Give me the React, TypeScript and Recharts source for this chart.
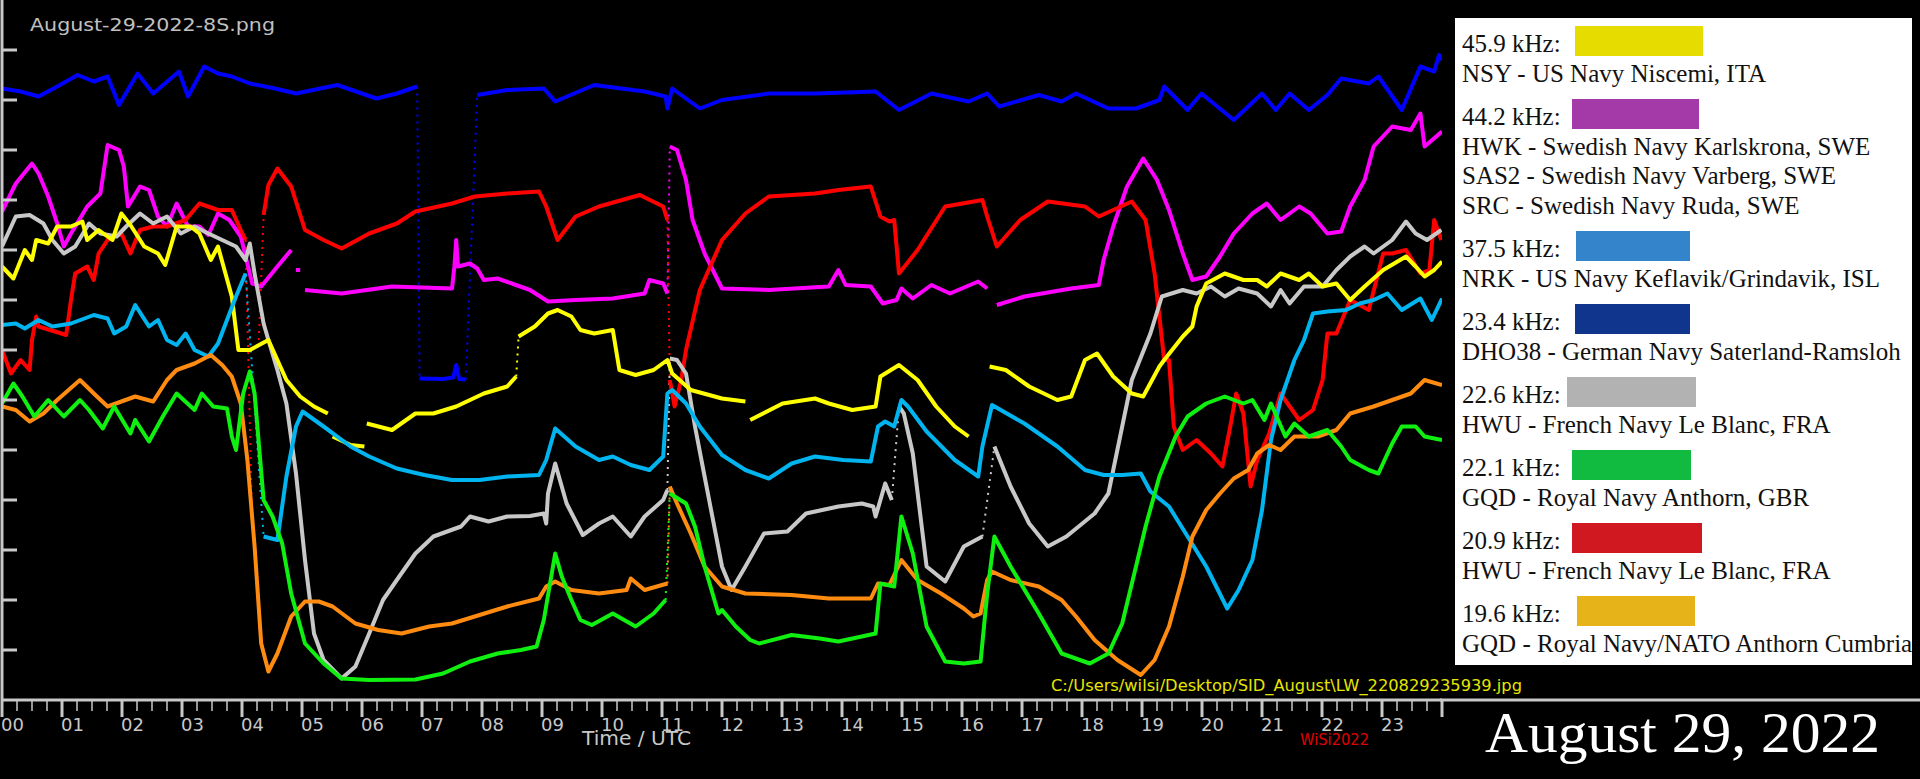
import React from "react";
import { LineChart, Line, XAxis, YAxis } from "recharts";

type Pt = [number, number] | null;

// x = hour of day (UTC), y = signal level in axis units (one unit per y tick)
const hourLabels = ["00", "01", "02", "03", "04", "05", "06", "07", "08", "09", "10", "11",
  "12", "13", "14", "15", "16", "17", "18", "19", "20", "21", "22", "23"];
const yTicks = [1, 2, 3, 4, 5, 6, 7, 8, 9, 10, 11, 12, 13];

const blue: Pt[] = [
  [0, 12.23], [0.31, 12.17], [0.61, 12.07], [0.92, 12.27], [1.26, 12.5], [1.53, 12.37], [1.76, 12.47],
  [1.95, 11.9], [2.26, 12.53], [2.52, 12.13], [2.95, 12.57], [3.1, 12.07], [3.37, 12.67], [3.6, 12.53],
  [3.83, 12.47], [4.13, 12.33], [4.55, 12.23], [4.9, 12.13], [5.59, 12.3], [6.24, 12.03], [6.58, 12.13],
  [6.92, 12.27], null,
  [6.96, 6.43], [7.35, 6.42], [7.52, 6.45], [7.57, 6.7], [7.62, 6.42], [7.73, 6.41], null,
  [7.92, 12.1], [8.42, 12.2], [9.03, 12.23], [9.22, 11.97], [9.87, 12.3], [10.71, 12.17], [11.06, 12.07],
  [11.09, 11.83], [11.17, 12.23], [11.63, 11.83], [12.0, 12.0], [12.78, 12.13], [13.55, 12.13],
  [14.56, 12.17], [14.95, 11.8], [15.49, 12.13], [16.11, 11.97], [16.42, 12.13], [16.62, 11.87],
  [17.28, 12.1], [17.66, 11.97], [17.9, 12.13], [18.44, 11.83], [18.9, 11.83], [19.29, 12.0],
  [19.37, 12.27], [19.76, 11.8], [19.99, 12.13], [20.53, 11.6], [21.0, 12.13], [21.23, 11.8],
  [21.46, 12.13], [21.78, 11.8], [22.09, 12.1], [22.32, 12.43], [22.78, 12.33], [22.94, 12.47],
  [23.33, 11.8], [23.64, 12.67], [23.87, 12.57], [23.95, 12.9], [24.0, 12.8],
];
const blueJumps: Pt[] = [[6.92, 12.27], [6.96, 6.43], null, [7.73, 6.41], [7.92, 12.1]];

const magenta: Pt[] = [
  [0, 9.77], [0.23, 10.33], [0.5, 10.73], [0.61, 10.53], [0.77, 10.07], [0.92, 9.53], [1.03, 9.07],
  [1.15, 9.33], [1.42, 9.87], [1.64, 10.13], [1.76, 11.1], [1.95, 11.0], [2.03, 10.67], [2.1, 9.87],
  [2.3, 10.27], [2.45, 10.2], [2.6, 9.67], [2.75, 9.47], [2.91, 9.93], [3.1, 9.47], [3.29, 9.47],
  [3.44, 9.3], [3.6, 9.73], [3.79, 9.6], [3.98, 9.27], [4.17, 8.33], [4.32, 8.27], [4.59, 8.67],
  [4.82, 9.0], null, [4.9, 8.6], [4.97, 8.6], null,
  [5.05, 8.2], [5.66, 8.13], [6.5, 8.27], [7.5, 8.23], [7.54, 8.67], [7.57, 9.2], [7.6, 8.67],
  [7.8, 8.73], [7.92, 8.63], [8.03, 8.4], [8.26, 8.43], [8.8, 8.2], [9.1, 7.97], [9.56, 8.0],
  [10.18, 8.03], [10.71, 8.13], [10.79, 8.4], [11.02, 8.33], [11.09, 8.13], null,
  [11.13, 11.07], [11.25, 11.0], [11.4, 10.4], [11.51, 9.6], [11.71, 8.93], [12.0, 8.23], [12.78, 8.2],
  [13.78, 8.27], [13.94, 8.6], [14.06, 8.3], [14.48, 8.27], [14.68, 7.93], [14.91, 8.0], [14.99, 8.23],
  [15.18, 8.03], [15.49, 8.3], [15.8, 8.13], [16.27, 8.37], [16.42, 8.23], null,
  [16.58, 7.9], [17.04, 8.07], [17.82, 8.23], [18.28, 8.3], [18.36, 8.8], [18.52, 9.47], [18.75, 10.27],
  [19.02, 10.83], [19.25, 10.4], [19.45, 9.8], [19.68, 8.93], [19.84, 8.4], [20.07, 8.47], [20.3, 8.87],
  [20.53, 9.33], [20.84, 9.73], [21.08, 9.93], [21.31, 9.6], [21.62, 9.87], [21.81, 9.73], [22.09, 9.33],
  [22.32, 9.37], [22.47, 9.87], [22.71, 10.4], [22.86, 11.07], [23.17, 11.47], [23.48, 11.4],
  [23.64, 11.73], [23.71, 11.07], [24.0, 11.37],
];
const magentaJumps: Pt[] = [[11.09, 8.13], [11.13, 11.07]];

const red: Pt[] = [
  [0, 7.0], [0.15, 6.53], [0.31, 6.8], [0.46, 6.6], [0.5, 7.2], [0.57, 7.67], [0.61, 7.47], [0.8, 7.4],
  [1.07, 7.3], [1.15, 8.0], [1.22, 8.53], [1.42, 8.67], [1.53, 8.4], [1.61, 8.93], [1.76, 9.2],
  [1.99, 9.33], [2.14, 8.93], [2.3, 9.4], [2.52, 9.47], [2.75, 9.47], [3.06, 9.6], [3.29, 9.93],
  [3.6, 9.8], [3.83, 9.8], [3.98, 9.4], [4.06, 9.2], null,
  [4.36, 9.7], [4.44, 10.3], [4.59, 10.63], [4.82, 10.27], [5.05, 9.4], [5.36, 9.2], [5.66, 9.03],
  [6.12, 9.33], [6.58, 9.53], [6.89, 9.77], [7.5, 9.93], [7.88, 10.07], [8.42, 10.13], [8.95, 10.17],
  [9.07, 9.87], [9.26, 9.2], [9.56, 9.67], [9.95, 9.87], [10.63, 10.1], [11.02, 9.87], [11.09, 9.6], null,
  [11.13, 6.4], [11.21, 5.87], [11.32, 6.4], [11.4, 7.0], [11.63, 8.2], [12.0, 9.2], [12.39, 9.73],
  [12.78, 10.07], [13.55, 10.13], [13.94, 10.2], [14.48, 10.27], [14.64, 9.67], [14.79, 9.57],
  [14.87, 9.6], [14.95, 8.53], [15.26, 9.0], [15.72, 9.87], [16.34, 10.0], [16.42, 9.67], [16.58, 9.07],
  [16.97, 9.6], [17.43, 9.97], [18.05, 9.87], [18.28, 9.67], [18.52, 9.8], [18.83, 9.97], [19.06, 9.6],
  [19.21, 8.53], [19.37, 6.8], [19.45, 6.8], [19.53, 5.47], [19.68, 5.0], [19.91, 5.2], [20.15, 4.93],
  [20.34, 4.67], [20.46, 5.4], [20.57, 6.13], [20.69, 5.73], [20.81, 4.27], [20.92, 4.8], [21.12, 5.33],
  [21.31, 6.13], [21.62, 5.6], [21.85, 5.8], [22.01, 6.4], [22.09, 7.33], [22.24, 7.33], [22.47, 8.0],
  [22.78, 7.8], [23.02, 8.93], [23.17, 8.93], [23.4, 9.0], [23.64, 8.53], [23.79, 8.6], [23.87, 9.6],
  [23.99, 9.2],
];
const redJumps: Pt[] = [[4.06, 9.2], [4.17, 3.47], null, [4.28, 7.2], [4.36, 9.7], null, [11.09, 9.6], [11.13, 6.4]];

const gray: Pt[] = [
  [0, 9.07], [0.23, 9.67], [0.46, 9.7], [0.69, 9.53], [0.84, 9.2], [1.03, 8.93], [1.22, 9.07],
  [1.45, 9.53], [1.64, 9.33], [1.91, 9.27], [2.07, 9.47], [2.3, 9.73], [2.52, 9.53], [2.75, 9.67],
  [2.98, 9.33], [3.21, 9.47], [3.44, 9.33], [3.67, 9.2], [3.9, 9.07], [4.06, 8.8], [4.13, 9.13],
  [4.21, 8.53], [4.36, 7.53], [4.44, 7.2], [4.59, 6.6], [4.74, 5.93], [4.9, 4.53], [5.05, 2.8],
  [5.2, 1.33], [5.36, 0.8], [5.66, 0.43], [5.89, 0.67], [6.12, 1.33], [6.35, 2.0], [6.58, 2.4],
  [6.89, 2.93], [7.19, 3.27], [7.65, 3.47], [7.8, 3.67], [8.11, 3.57], [8.42, 3.67], [8.8, 3.68],
  [9.03, 3.73], [9.07, 3.53], [9.1, 4.13], [9.22, 4.73], [9.41, 3.93], [9.68, 3.3], [9.95, 3.53],
  [10.18, 3.67], [10.48, 3.27], [10.71, 3.67], [11.02, 4.0], [11.09, 4.2], null,
  [11.13, 6.83], [11.25, 6.8], [11.4, 6.53], [11.55, 5.47], [11.71, 4.47], [12.0, 2.67], [12.16, 2.2],
  [12.39, 2.67], [12.7, 3.33], [13.09, 3.37], [13.4, 3.73], [13.94, 3.87], [14.33, 3.93], [14.52, 3.87],
  [14.56, 3.67], [14.72, 4.33], [14.83, 4.0], null,
  [14.95, 5.87], [15.03, 5.73], [15.18, 4.93], [15.41, 2.67], [15.72, 2.37], [16.03, 3.07], [16.34, 3.27], null,
  [16.54, 5.07], [16.81, 4.27], [17.12, 3.53], [17.43, 3.07], [17.74, 3.27], [18.21, 3.73], [18.44, 4.13],
  [18.67, 5.47], [18.83, 6.4], [19.14, 7.33], [19.33, 8.07], [19.68, 8.2], [19.91, 8.13], [20.15, 8.27],
  [20.38, 8.07], [20.61, 8.23], [20.92, 8.13], [21.15, 7.87], [21.31, 8.2], [21.46, 7.93], [21.7, 8.27],
  [22.01, 8.27], [22.24, 8.6], [22.47, 8.87], [22.71, 9.07], [22.86, 8.93], [23.17, 9.2], [23.4, 9.57],
  [23.56, 9.33], [23.75, 9.2], [23.99, 9.4],
];
const grayJumps: Pt[] = [[11.09, 4.2], [11.13, 6.83], null, [14.83, 4.0], [14.95, 5.87], null, [16.34, 3.27], [16.54, 5.07]];

const yellow: Pt[] = [
  [0, 8.67], [0.19, 8.43], [0.38, 9.0], [0.5, 8.8], [0.57, 9.2], [0.77, 9.13], [0.92, 9.47], [1.15, 9.47],
  [1.34, 9.57], [1.42, 9.2], [1.61, 9.4], [1.84, 9.2], [1.99, 9.73], [2.14, 9.5], [2.37, 9.07],
  [2.6, 8.93], [2.72, 8.7], [2.91, 9.47], [3.14, 9.47], [3.29, 9.33], [3.48, 8.8], [3.6, 9.07],
  [3.83, 8.07], [3.94, 7.0], [4.13, 7.0], [4.44, 7.2], [4.59, 6.8], [4.74, 6.4], [4.97, 6.07],
  [5.2, 5.87], [5.43, 5.73], null, [5.51, 5.27], [5.81, 5.1], [6.04, 5.07], null,
  [6.08, 5.53], [6.5, 5.4], [6.89, 5.73], [7.19, 5.73], [7.57, 5.87], [8.03, 6.13], [8.42, 6.27],
  [8.57, 6.47], null,
  [8.61, 7.27], [8.88, 7.47], [9.1, 7.73], [9.26, 7.8], [9.49, 7.67], [9.64, 7.4], [9.87, 7.33],
  [10.18, 7.4], [10.29, 6.6], [10.56, 6.5], [10.86, 6.6], [11.09, 6.8], [11.17, 6.53], [11.48, 6.2],
  [12.0, 6.03], [12.39, 5.97], null,
  [12.47, 5.6], [13.01, 5.93], [13.55, 6.03], [13.78, 5.93], [14.17, 5.8], [14.56, 5.87], [14.64, 6.47],
  [14.95, 6.7], [15.26, 6.4], [15.57, 5.87], [15.88, 5.47], [16.11, 5.27], null,
  [16.46, 6.67], [16.73, 6.6], [17.12, 6.27], [17.59, 6.0], [17.82, 6.07], [18.05, 6.8], [18.25, 6.93],
  [18.52, 6.47], [18.83, 6.13], [19.02, 6.07], [19.29, 6.67], [19.37, 6.8], [19.68, 7.27], [19.84, 7.47],
  [19.91, 7.87], [20.07, 8.33], [20.38, 8.53], [20.69, 8.4], [20.92, 8.4], [21.08, 8.27], [21.31, 8.53],
  [21.62, 8.4], [21.78, 8.53], [22.01, 8.27], [22.24, 8.33], [22.47, 8.0], [22.71, 8.27], [23.02, 8.6],
  [23.4, 8.87], [23.56, 8.67], [23.71, 8.47], [23.87, 8.6], [24.0, 8.77],
];
const yellowJumps: Pt[] = [[8.57, 6.47], [8.61, 7.27]];

const sky: Pt[] = [
  [0, 7.5], [0.23, 7.53], [0.38, 7.43], [0.61, 7.6], [0.84, 7.47], [1.15, 7.53], [1.53, 7.7],
  [1.76, 7.63], [1.87, 7.33], [2.07, 7.47], [2.22, 7.9], [2.45, 7.47], [2.6, 7.6], [2.75, 7.2],
  [2.91, 7.1], [3.06, 7.33], [3.21, 7.0], [3.44, 6.87], [3.6, 7.13], [3.75, 7.6], [3.9, 8.07],
  [4.06, 8.53], null,
  [4.36, 3.27], [4.59, 3.2], [4.74, 4.47], [4.9, 5.47], [5.01, 5.77], [5.36, 5.47], [5.81, 5.07],
  [6.12, 4.87], [6.58, 4.63], [7.04, 4.5], [7.5, 4.4], [7.96, 4.4], [8.42, 4.47], [8.95, 4.5],
  [9.07, 4.8], [9.22, 5.43], [9.56, 5.07], [9.95, 4.8], [10.18, 4.87], [10.48, 4.7], [10.79, 4.6],
  [11.02, 4.87], [11.09, 6.13], [11.17, 6.2], [11.4, 5.93], [11.63, 5.47], [12.0, 4.9], [12.39, 4.6],
  [12.78, 4.43], [13.16, 4.73], [13.55, 4.87], [14.02, 4.8], [14.48, 4.77], [14.6, 5.47], [14.72, 5.57],
  [14.87, 5.47], [14.99, 6.0], [15.1, 5.87], [15.41, 5.37], [15.88, 4.8], [16.27, 4.47], [16.34, 5.07],
  [16.5, 5.9], [17.04, 5.53], [17.59, 5.07], [18.05, 4.6], [18.36, 4.5], [18.67, 4.5], [18.98, 4.53],
  [19.14, 4.17], [19.45, 3.87], [19.76, 3.27], [20.07, 2.67], [20.42, 1.83], [20.61, 2.2], [20.84, 2.8],
  [21.0, 3.8], [21.15, 5.2], [21.31, 6.0], [21.54, 6.8], [21.7, 7.2], [21.85, 7.73], [22.09, 7.77],
  [22.4, 7.8], [22.63, 7.93], [22.86, 8.0], [23.09, 8.13], [23.33, 7.8], [23.64, 8.03], [23.83, 7.6],
  [24.0, 8.03],
];
const skyJumps: Pt[] = [[4.06, 8.53], [4.36, 3.27]];

const orange: Pt[] = [
  [0, 5.87], [0.23, 5.8], [0.46, 5.57], [0.69, 5.73], [0.92, 6.0], [1.3, 6.4], [1.53, 6.13], [1.76, 5.87],
  [1.99, 5.97], [2.22, 6.07], [2.52, 5.97], [2.75, 6.4], [2.91, 6.6], [3.21, 6.73], [3.48, 6.9],
  [3.67, 6.7], [3.83, 6.47], [3.98, 5.93], [4.09, 4.8], [4.21, 3.07], [4.32, 1.13], [4.44, 0.57],
  [4.59, 0.93], [4.82, 1.67], [5.05, 1.97], [5.28, 1.97], [5.51, 1.87], [5.89, 1.53], [6.27, 1.4],
  [6.66, 1.33], [7.12, 1.47], [7.5, 1.53], [7.96, 1.7], [8.42, 1.87], [8.95, 2.03], [9.07, 2.27],
  [9.22, 2.37], [9.49, 2.2], [9.95, 2.13], [10.41, 2.2], [10.48, 2.43], [10.71, 2.2], [11.09, 2.33], null,
  [11.13, 4.27], [11.25, 3.93], [11.48, 3.33], [11.71, 2.67], [12.0, 2.27], [12.39, 2.13], [13.16, 2.1],
  [13.78, 2.03], [14.48, 2.03], [14.6, 2.33], [14.79, 2.3], [14.99, 2.8], [15.26, 2.4], [15.65, 2.13],
  [16.03, 1.83], [16.19, 1.67], [16.31, 1.73], [16.42, 2.4], [16.5, 2.57], [16.81, 2.4], [17.28, 2.27],
  [17.66, 2.0], [17.9, 1.67], [18.21, 1.2], [18.59, 0.8], [18.98, 0.5], [19.21, 0.8], [19.45, 1.47],
  [19.68, 2.47], [19.84, 3.27], [20.07, 3.8], [20.3, 4.13], [20.53, 4.43], [20.77, 4.6], [20.92, 4.93],
  [21.12, 5.1], [21.31, 5.0], [21.54, 5.27], [21.93, 5.27], [22.24, 5.4], [22.47, 5.73], [22.86, 5.87],
  [23.17, 6.0], [23.48, 6.13], [23.71, 6.4], [24.0, 6.3],
];
const orangeJumps: Pt[] = [[11.09, 2.33], [11.13, 4.27]];

const green: Pt[] = [
  [0, 5.93], [0.19, 6.33], [0.34, 6.07], [0.54, 5.67], [0.77, 6.0], [1.03, 5.67], [1.3, 6.0], [1.45, 5.8],
  [1.68, 5.43], [1.87, 5.87], [2.14, 5.33], [2.22, 5.6], [2.45, 5.17], [2.68, 5.67], [2.91, 6.13],
  [3.21, 5.8], [3.33, 6.13], [3.52, 5.87], [3.75, 5.83], [3.83, 5.27], [3.9, 5.0], [4.02, 6.13],
  [4.13, 6.57], [4.21, 6.13], [4.28, 5.13], [4.36, 4.0], [4.51, 3.67], [4.67, 3.13], [4.82, 2.13],
  [5.05, 1.13], [5.36, 0.73], [5.66, 0.43], [6.12, 0.4], [6.89, 0.41], [7.35, 0.53], [7.8, 0.77],
  [8.26, 0.93], [8.65, 1.0], [8.91, 1.07], [9.03, 1.6], [9.22, 2.93], [9.33, 2.47], [9.49, 2.0],
  [9.64, 1.6], [9.83, 1.5], [10.18, 1.73], [10.56, 1.47], [10.86, 1.73], [11.06, 2.0], null,
  [11.13, 4.13], [11.4, 3.93], [11.55, 3.47], [11.71, 2.67], [11.94, 1.73], [12.0, 1.8], [12.23, 1.47],
  [12.47, 1.2], [12.62, 1.13], [13.16, 1.3], [13.63, 1.23], [13.94, 1.17], [14.33, 1.27], [14.56, 1.33],
  [14.64, 2.33], [14.87, 2.27], [14.99, 3.67], [15.18, 2.93], [15.41, 1.47], [15.72, 0.77], [16.03, 0.73],
  [16.31, 0.77], [16.42, 2.13], [16.54, 3.27], [16.81, 2.67], [17.28, 1.73], [17.66, 0.93], [18.13, 0.73],
  [18.44, 0.93], [18.67, 1.53], [18.9, 2.67], [19.06, 3.47], [19.29, 4.47], [19.56, 5.27], [19.76, 5.67],
  [20.07, 5.93], [20.38, 6.07], [20.69, 5.93], [20.84, 6.0], [21.04, 5.6], [21.15, 5.93], [21.39, 5.27],
  [21.54, 5.53], [21.78, 5.27], [22.09, 5.4], [22.32, 5.07], [22.47, 4.8], [22.78, 4.6], [22.94, 4.53],
  [23.17, 5.13], [23.33, 5.47], [23.56, 5.47], [23.71, 5.27], [24.0, 5.2],
];
const greenJumps: Pt[] = [[11.06, 2.0], [11.13, 4.13]];

// legend box content
const legendFreqs = ["45.9 kHz:", "44.2 kHz:", "37.5 kHz:", "23.4 kHz:", "22.6 kHz:", "22.1 kHz:", "20.9 kHz:", "19.6 kHz:"];
const legendStations = [
  ["NSY - US Navy Niscemi, ITA"],
  ["HWK - Swedish Navy Karlskrona, SWE", "SAS2 - Swedish Navy Varberg, SWE", "SRC - Swedish Navy Ruda, SWE"],
  ["NRK - US Navy Keflavik/Grindavik, ISL"],
  ["DHO38 - German Navy Saterland-Ramsloh"],
  ["HWU - French Navy Le Blanc, FRA"],
  ["GQD - Royal Navy Anthorn, GBR"],
  ["HWU - French Navy Le Blanc, FRA"],
  ["GQD - Royal Navy/NATO Anthorn Cumbria"],
];
const legendColors = ["#e6dc00", "#a33aa8", "#3484cc", "#10358c", "#b2b2b2", "#10bb40", "#d01820", "#e6b418"];
// swatch left edge and width, measured per row
const swatchBoxes = [[1575, 128], [1572, 127], [1576, 114], [1575, 115], [1567, 129], [1572, 119], [1572, 130], [1577, 118]];

const AXIS = "#c8c8c8";

const toRows = (pts: Pt[]) =>
  pts.map((p, i) => {
    if (p) return { h: p[0], v: p[1] as number | null };
    const a = pts[i - 1] as [number, number];
    const b = pts[i + 1] as [number, number];
    return { h: (a[0] + b[0]) / 2, v: null };
  });

const traces = [
  { key: "blue", color: "#0000ff", pts: blue, jumps: blueJumps },
  { key: "magenta", color: "#ff00ff", pts: magenta, jumps: magentaJumps },
  { key: "red", color: "#ff0000", pts: red, jumps: redJumps },
  { key: "gray", color: "#c8c8c8", pts: gray, jumps: grayJumps },
  { key: "yellow", color: "#ffff00", pts: yellow, jumps: yellowJumps },
  { key: "sky", color: "#00b4f0", pts: sky, jumps: skyJumps },
  { key: "orange", color: "#ff8c10", pts: orange, jumps: orangeJumps },
  { key: "green", color: "#10f010", pts: green, jumps: greenJumps },
];

const quarterTicks = Array.from({ length: hourLabels.length * 4 + 1 }, (_, i) => i / 4);

const HourTick = (props: any) => {
  const { x, payload } = props;
  const val = payload.value as number;
  const major = Number.isInteger(val);
  return (
    <g>
      <line x1={x} x2={x} y1={700} y2={major ? 717 : 711} stroke={AXIS} strokeWidth={major ? 3 : 1.5} />
      {major && val < hourLabels.length && (
        <text x={x - 1} y={731} fill={AXIS} fontSize={18} fontFamily="DejaVu Sans">
          {hourLabels[val]}
        </text>
      )}
    </g>
  );
};

const LevelTick = (props: any) => (
  <line x1={2} x2={17} y1={props.y} y2={props.y} stroke={AXIS} strokeWidth={3} />
);

function Legend() {
  let y = 52;
  const out: React.ReactNode[] = [];
  legendFreqs.forEach((f, i) => {
    const [sx, sw] = swatchBoxes[i];
    out.push(
      <g key={f + i}>
        <text x={1462} y={y} fontSize={25} fill="#111">{f}</text>
        <rect x={sx} y={y - 26} width={sw} height={30} fill={legendColors[i]} />
      </g>
    );
    legendStations[i].forEach((s, j) => {
      y += 29.5;
      out.push(<text key={`${i}-${j}`} x={1462} y={y} fontSize={25} fill="#111">{s}</text>);
    });
    y += 43.5;
  });
  return (
    <g fontFamily="'Liberation Serif', 'Times New Roman', serif">
      <rect x={1455} y={18} width={457} height={647} fill="#fff" />
      {out}
    </g>
  );
}

export default function App() {
  return (
    <div style={{ position: "fixed", left: 0, top: 0, width: 1920, height: 779, background: "#000", overflow: "hidden" }}>
      <LineChart width={1920} height={779} margin={{ top: 0, right: 478, bottom: 0, left: 0 }}>
        <XAxis
          dataKey="h"
          type="number"
          domain={[0, 24]}
          allowDataOverflow
          ticks={quarterTicks}
          interval={0}
          height={79}
          axisLine={{ stroke: AXIS, strokeWidth: 3 }}
          tickLine={false}
          tick={<HourTick />}
        />
        <YAxis
          type="number"
          domain={[0, 14]}
          allowDataOverflow
          ticks={yTicks}
          width={2}
          axisLine={{ stroke: AXIS, strokeWidth: 3 }}
          tickLine={false}
          tick={<LevelTick />}
        />
        {traces.map((t) => (
          <Line
            key={t.key + "-j"}
            data={toRows(t.jumps)}
            dataKey="v"
            type="linear"
            stroke={t.color}
            strokeWidth={2}
            strokeDasharray="2 5"
            dot={false}
            activeDot={false}
            isAnimationActive={false}
          />
        ))}
        {traces.map((t) => (
          <Line
            key={t.key}
            data={toRows(t.pts)}
            dataKey="v"
            type="linear"
            stroke={t.color}
            strokeWidth={4}
            strokeLinejoin="round"
            dot={false}
            activeDot={false}
            isAnimationActive={false}
          />
        ))}
      </LineChart>
      <svg width={1920} height={779} style={{ position: "absolute", left: 0, top: 0, pointerEvents: "none" }}>
        <line x1={1440} x2={1920} y1={700} y2={700} stroke={AXIS} strokeWidth={3} />
        <text x={30} y={31} fill="#c0c0c0" fontSize={18} fontFamily="DejaVu Sans" textLength={245} lengthAdjust="spacingAndGlyphs">
          August-29-2022-8S.png
        </text>
        <text x={582} y={745} fill={AXIS} fontSize={20} fontFamily="DejaVu Sans" textLength={109} lengthAdjust="spacingAndGlyphs">
          Time / UTC
        </text>
        <text x={1051} y={691} fill="#e6e600" fontSize={16} fontFamily="DejaVu Sans" textLength={471} lengthAdjust="spacingAndGlyphs">
          C:/Users/wilsi/Desktop/SID_August\LW_220829235939.jpg
        </text>
        <text x={1300} y={745} fill="#e00000" fontSize={15} fontFamily="DejaVu Sans" textLength={69} lengthAdjust="spacingAndGlyphs">
          WiSi2022
        </text>
        <Legend />
        <text x={1485} y={752} fill="#fff" fontSize={57} fontFamily="'Liberation Serif', serif" textLength={395} lengthAdjust="spacingAndGlyphs">
          August 29, 2022
        </text>
      </svg>
    </div>
  );
}
